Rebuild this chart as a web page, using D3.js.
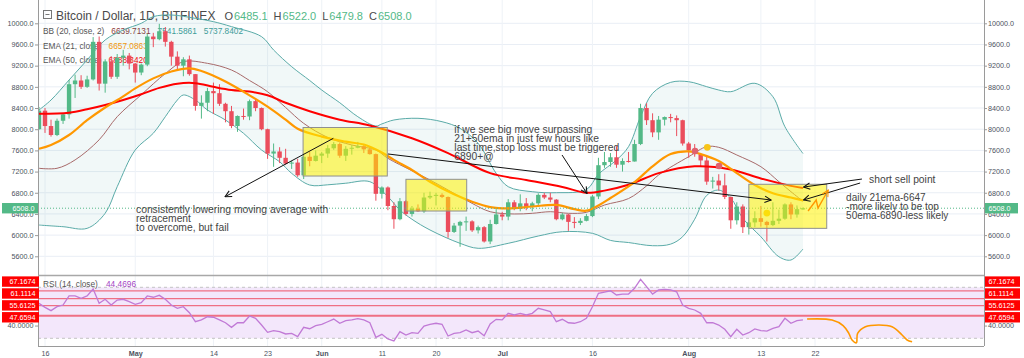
<!DOCTYPE html>
<html><head><meta charset="utf-8">
<script src="https://cdn.jsdelivr.net/npm/d3@7/dist/d3.min.js"></script>
<style>
html,body{margin:0;padding:0;background:#fff;overflow:hidden}
svg{display:block;font-family:"Liberation Sans",Arial,sans-serif}
</style></head><body>
<svg id="chart" width="1024" height="358"></svg>
<script>
// ---------------- DATA ----------------
const dates = [
"2018-04-15","2018-04-16","2018-04-17","2018-04-18","2018-04-19","2018-04-20","2018-04-21","2018-04-22","2018-04-23","2018-04-24","2018-04-25","2018-04-26","2018-04-27","2018-04-28","2018-04-29","2018-04-30",
"2018-05-01","2018-05-02","2018-05-03","2018-05-04","2018-05-05","2018-05-06","2018-05-07","2018-05-08","2018-05-09","2018-05-10","2018-05-11","2018-05-12","2018-05-13","2018-05-14","2018-05-15","2018-05-16","2018-05-17","2018-05-18","2018-05-19","2018-05-20","2018-05-21","2018-05-22","2018-05-23","2018-05-24","2018-05-25","2018-05-26","2018-05-27","2018-05-28","2018-05-29","2018-05-30","2018-05-31",
"2018-06-01","2018-06-02","2018-06-03","2018-06-04","2018-06-05","2018-06-06","2018-06-07","2018-06-08","2018-06-09","2018-06-10","2018-06-11","2018-06-12","2018-06-13","2018-06-14","2018-06-15","2018-06-16","2018-06-17","2018-06-18","2018-06-19","2018-06-20","2018-06-21","2018-06-22","2018-06-23","2018-06-24","2018-06-25","2018-06-26","2018-06-27","2018-06-28","2018-06-29","2018-06-30",
"2018-07-01","2018-07-02","2018-07-03","2018-07-04","2018-07-05","2018-07-06","2018-07-07","2018-07-08","2018-07-09","2018-07-10","2018-07-11","2018-07-12","2018-07-13","2018-07-14","2018-07-15","2018-07-16","2018-07-17","2018-07-18","2018-07-19","2018-07-20","2018-07-21","2018-07-22","2018-07-23","2018-07-24","2018-07-25","2018-07-26","2018-07-27","2018-07-28","2018-07-29","2018-07-30","2018-07-31",
"2018-08-01","2018-08-02","2018-08-03","2018-08-04","2018-08-05","2018-08-06","2018-08-07","2018-08-08","2018-08-09","2018-08-10","2018-08-11","2018-08-12","2018-08-13","2018-08-14","2018-08-15","2018-08-16","2018-08-17","2018-08-18","2018-08-19","2018-08-20"];

const open = [8000,8350,8060,7890,8160,8280,8850,8920,8800,8940,9650,8860,9280,8990,9350,9390,
9240,9070,9220,9750,9700,9850,9650,9370,9200,9320,9040,8440,8500,8720,8680,8480,8340,8060,8250,8240,8530,8400,8000,7540,7580,7460,7350,7370,7130,7480,7400,
7500,7540,7640,7720,7500,7630,7650,7680,7620,7530,6780,6900,6550,6300,6640,6400,6500,6450,6710,6740,6760,6720,6060,6180,6250,6260,6090,6150,5880,6210,
6390,6350,6620,6500,6600,6530,6600,6760,6710,6670,6300,6390,6250,6230,6270,6360,6730,7320,7380,7470,7330,7400,7390,7720,8400,8170,7940,8180,8230,8210,8170,
7730,7600,7530,7410,7010,7030,6940,6720,6280,6540,6150,6240,6320,6250,6190,6270,6310,6580,6390,6485.1];
const high = [8420,8400,8180,8200,8300,8930,9030,9020,9010,9740,9750,9320,9380,9420,9500,9440,
9250,9240,9800,9820,9990,9930,9670,9470,9360,9390,9040,8640,8780,8880,8850,8500,8440,8260,8390,8560,8580,8410,8010,7730,7660,7630,7400,7440,7540,7570,7600,
7570,7700,7760,7750,7680,7700,7760,7700,7680,7540,6920,6920,6620,6700,6660,6550,6580,6800,6820,6800,6790,6730,6230,6270,6350,6280,6180,6170,6290,6490,
6440,6680,6660,6770,6700,6630,6790,6800,6800,6680,6420,6400,6340,6320,6400,6760,7460,7570,7550,7680,7450,7570,7800,8480,8490,8300,8250,8240,8290,8260,8180,
7760,7720,7540,7500,7100,7150,7160,6730,6620,6580,6470,6450,6550,6270,6620,6480,6600,6620,6560,6522.0];
const low = [7990,7930,7860,7870,8100,8200,8590,8760,8780,8920,8730,8690,8950,8950,9200,9130,
8880,9020,9190,9550,9680,9560,9200,9100,9000,9010,8350,8200,8340,8290,8440,8130,8020,7950,8180,8170,8340,7980,7440,7290,7360,7330,7250,7100,7060,7300,7390,
7360,7460,7610,7460,7400,7520,7640,7550,7520,6650,6690,6470,6120,6280,6370,6350,6440,6420,6680,6560,6700,5950,6040,5780,6080,6060,6030,5860,5830,6200,
6280,6280,6470,6450,6470,6450,6530,6680,6620,6280,6280,6080,6130,6190,6260,6340,6680,7270,7290,7270,7200,7370,7390,7700,8080,7850,7800,8070,8130,7870,7690,
7460,7480,7300,6950,6880,6840,6680,6120,6200,6040,6010,6150,6160,5880,6170,6210,6290,6300,6330,6479.8];
const close = [8350,8060,7890,8160,8280,8850,8920,8800,8940,9650,8860,9280,8990,9350,9390,9240,
9070,9220,9750,9700,9850,9650,9370,9200,9320,9040,8440,8500,8720,8680,8480,8340,8060,8250,8240,8530,8400,8000,7540,7580,7460,7350,7370,7130,7480,7400,7500,
7540,7640,7720,7500,7630,7650,7680,7620,7530,6780,6900,6550,6300,6640,6400,6500,6450,6710,6740,6760,6720,6060,6180,6250,6260,6090,6150,5880,6210,6390,
6350,6620,6500,6600,6530,6600,6760,6710,6670,6300,6390,6250,6230,6270,6360,6730,7320,7380,7470,7330,7400,7390,7720,8400,8170,7940,8180,8230,8210,8170,7730,
7600,7530,7410,7010,7030,6940,6720,6280,6540,6150,6240,6320,6250,6190,6270,6310,6580,6390,6490,6508.0];

const rsi = [57.4,54.3,51.7,54.8,56.1,63.2,63.2,61.4,63.2,68.7,57.4,60.6,56.1,60.0,60.6,58.7,
56.7,57.9,63.2,62.2,63.7,60.6,56.1,53.5,54.8,50.1,43.0,44.4,46.9,46.5,44.4,42.2,38.6,42.2,42.2,47.5,45.7,40.4,34.7,36.0,35.2,33.4,33.9,31.3,38.6,37.5,39.9,
41.0,43.0,45.1,41.8,43.8,44.4,45.4,44.4,42.2,30.8,33.1,29.5,27.9,35.2,32.6,34.4,33.9,39.6,41.0,41.8,41.0,31.8,33.9,34.4,36.5,34.4,35.7,32.0,41.2,44.9,
44.4,49.6,48.3,49.6,48.3,49.6,53.5,52.2,50.9,43.0,44.9,42.2,41.8,43.0,45.7,54.8,65.3,66.3,67.3,64.0,64.7,64.7,69.2,76.3,70.5,64.7,67.9,68.4,67.9,66.5,56.1,
53.5,52.2,49.6,42.2,42.2,40.4,37.1,31.3,37.1,32.6,34.4,37.3,36.0,35.7,37.8,39.1,45.7,41.8,43.8,44.47];

// indicator lines: [date, value]
const ema21 = [["2018-04-15",7630],["2018-04-17",7700],["2018-04-20",7890],["2018-04-23",8170],["2018-04-26",8410],["2018-04-29",8620],["2018-05-01",8770],["2018-05-04",8960],["2018-05-07",9090],["2018-05-10",9150],["2018-05-12",9100],["2018-05-14",9010],["2018-05-16",8900],["2018-05-20",8640],["2018-05-23",8425],["2018-05-26",8180],["2018-05-28",8010],["2018-06-01",7860],["2018-06-05",7764],["2018-06-08",7710],["2018-06-11",7560],["2018-06-13",7420],["2018-06-16",7230],["2018-06-19",7009],["2018-06-23",6770],["2018-06-26",6631],["2018-06-29",6530],["2018-07-02",6506],["2018-07-06",6540],["2018-07-10",6570],["2018-07-13",6490],["2018-07-15",6461],["2018-07-17",6560],["2018-07-19",6700],["2018-07-23",7000],["2018-07-26",7300],["2018-07-29",7530],["2018-08-01",7580],["2018-08-03",7530],["2018-08-06",7400],["2018-08-09",7170],["2018-08-12",6946],["2018-08-15",6790],["2018-08-18",6710],["2018-08-20",6657]];
const ema50 = [["2018-04-15",8290],["2018-04-20",8312],["2018-04-23",8376],["2018-04-26",8457],["2018-04-29",8551],["2018-05-02",8660],["2018-05-05",8780],["2018-05-08",8860],["2018-05-11",8870],["2018-05-14",8800],["2018-05-17",8740],["2018-05-20",8710],["2018-05-23",8640],["2018-05-26",8500],["2018-05-30",8340],["2018-06-04",8180],["2018-06-09",8070],["2018-06-16",7830],["2018-06-22",7550],["2018-06-29",7170],["2018-07-05",7040],["2018-07-11",6910],["2018-07-15",6800],["2018-07-18",6840],["2018-07-22",6950],["2018-07-27",7170],["2018-08-02",7300],["2018-08-08",7240],["2018-08-13",7070],["2018-08-18",6930],["2018-08-20",6888]];
const bbBasis = [["2018-04-15",7262],["2018-04-18",7262],["2018-04-21",7420],["2018-04-25",7800],["2018-04-28",8236],["2018-05-02",8650],["2018-05-06",9050],["2018-05-09",9275],["2018-05-13",9244],["2018-05-17",9118],["2018-05-20",8920],["2018-05-23",8708],["2018-05-26",8410],["2018-05-29",8111],["2018-06-02",7845],["2018-06-06",7702],["2018-06-10",7607],["2018-06-12",7450],["2018-06-16",7215],["2018-06-19",7041],["2018-06-22",6852],["2018-06-26",6600],["2018-06-29",6442],["2018-07-03",6399],["2018-07-06",6412],["2018-07-09",6442],["2018-07-12",6412],["2018-07-15",6430],["2018-07-18",6568],["2018-07-22",6690],["2018-07-25",6930],["2018-07-27",7135],["2018-08-01",7481],["2018-08-04",7670],["2018-08-06",7658],["2018-08-09",7513],["2018-08-13",7292],["2018-08-16",7009],["2018-08-18",6820],["2018-08-20",6640]];
const bbUpper = [["2018-04-15",8363],["2018-04-17",8551],["2018-04-20",8929],["2018-04-23",9307],["2018-04-26",9685],["2018-04-29",9874],["2018-05-02",10000],["2018-05-04",10126],["2018-05-07",10157],["2018-05-11",10094],["2018-05-14",10031],["2018-05-17",9937],["2018-05-22",9748],["2018-05-24",9496],["2018-05-27",9181],["2018-05-30",8920],["2018-06-01",8740],["2018-06-04",8500],["2018-06-07",8236],["2018-06-10",8060],["2018-06-11",8100],["2018-06-13",8174],["2018-06-17",8206],["2018-06-21",8142],["2018-06-24",8016],["2018-06-27",7734],["2018-06-30",7167],["2018-07-02",6914],["2018-07-06",6820],["2018-07-10",6801],["2018-07-15",6860],["2018-07-17",7150],["2018-07-20",7418],["2018-07-22",7670],["2018-07-24",8236],["2018-07-26",8678],["2018-07-29",8885],["2018-08-01",8897],["2018-08-04",8803],["2018-08-06",8740],["2018-08-08",8708],["2018-08-12",8867],["2018-08-15",8614],["2018-08-17",8047],["2018-08-20",7541]];
const bbLower = [["2018-04-15",6190],["2018-04-19",6159],["2018-04-23",6128],["2018-04-26",6412],["2018-04-28",6914],["2018-05-01",7607],["2018-05-04",7923],["2018-05-06",8236],["2018-05-08",8551],["2018-05-09",8646],["2018-05-11",8551],["2018-05-13",8363],["2018-05-16",8174],["2018-05-19",7923],["2018-05-22",7607],["2018-05-25",7386],["2018-05-27",7167],["2018-05-30",6946],["2018-06-02",6950],["2018-06-05",6980],["2018-06-09",7009],["2018-06-12",6725],["2018-06-14",6474],["2018-06-16",6300],["2018-06-19",6097],["2018-06-24",5845],["2018-06-27",5751],["2018-07-02",5845],["2018-07-07",5983],["2018-07-11",6064],["2018-07-16",6034],["2018-07-19",5900],["2018-07-22",5860],["2018-07-26",5800],["2018-07-29",5830],["2018-07-31",5970],["2018-08-02",6300],["2018-08-04",6750],["2018-08-06",6850],["2018-08-08",6700],["2018-08-10",6317],["2018-08-13",5970],["2018-08-16",5592],["2018-08-18",5530],["2018-08-20",5738]];

const priceTicks = [5600,6000,6400,6800,7200,7600,8000,8400,8800,9200,9600,10000];
const timeTicks = ["2018-04-16","2018-05-01","2018-05-14","2018-05-23","2018-06-01","2018-06-11","2018-06-20","2018-07-01","2018-07-16","2018-08-01","2018-08-13","2018-08-22"];
const timeLabels = ["16","May","14","23","Jun","11","20","Jul","16","Aug","13","22"];
const rsiLevels = [67.1674,61.1114,55.6125,47.6594];
const lastPrice = 6508.0;
const legendOHLC = [["O","6485.1"],["H","6522.0"],["L","6479.8"],["C","6508.0"]];
const legendBB = ["6639.7131","7541.5861","5737.8402"];
const legendEma21 = "6657.0863", legendEma50 = "6888.3420", legendRsi = "44.4696";

// annotations in (days after Apr 16, price) space
const boxes = [[42.9,56.9,8032,7116],[60.0,70.1,7054,6455],[117.0,129.95,6960,6128]];
const arrows = [[47.93,7828,29.93,6725],[57.02,7532,120.7,6663],[85.95,7513,90.1,6786],[135.8,7059,126.1,6908],[135.5,6984,126.1,6663]];
const orangeMark = [[126.85,6455],[128.2,6663],[128.5,6512],[130.2,6852]];
const goldDots = [[110.1,7658],[120.0,6417]];
const redDots = [[108.06,7588],[112.05,7305]];
const rsiSketch = [[126.68,45.1],[130.84,44.35],[132.67,40.0],[133.62,33.9],[134.16,28.7],[134.88,26.5],[135.08,33.9],[136.38,39.1],[138.6,40.4],[140.81,39.1],[142.48,32.6],[143.31,28.7],[144.14,27.3]];
const notes = [
  [15.13,6427,10.3,["consistently lowering moving average with","retracement","to overcome, but fail"]],
  [68.05,7934,10.3,["if we see big move surpassing","21+50ema in just few hours like","last time,stop loss must be triggered","6890+@"]],
  [136.99,6975,10.3,["short sell point"]],
  [133.17,6644,10.0,["daily 21ema-6647","-more likely to be top","50ema-6890-less likely"]]
];

// ---------------- LAYOUT ----------------
const L = 38, R = 984, mainBot = 275, rsiTop = 275, rsiBot = 346;
const UP = "#53b987", DOWN = "#eb4d5c";
const parse = d3.utcParse("%Y-%m-%d");
const t0 = parse("2018-04-16");
const x = d3.scaleUtc().domain([t0, parse("2018-08-22")]).range([45, 815]);
const y = d3.scaleLinear().domain([5600, 10000]).range([256.3, 23.3]);
const yR = d3.scaleLinear().domain([30, 70]).range([338.3, 287.3]);
const xd = d => x(new Date(t0.getTime() + d * 864e5));

const svg = d3.select("#chart");
const defs = svg.append("defs");
defs.append("clipPath").attr("id","cm").append("rect").attr("x",L).attr("y",0).attr("width",R-L).attr("height",mainBot);
defs.append("clipPath").attr("id","cr").append("rect").attr("x",L).attr("y",rsiTop).attr("width",R-L).attr("height",rsiBot-rsiTop);
function marker(id, color){
  defs.append("marker").attr("id",id).attr("viewBox","0 0 10 10").attr("refX",9).attr("refY",5)
    .attr("markerWidth",8).attr("markerHeight",8).attr("markerUnits","userSpaceOnUse").attr("orient","auto")
    .append("path").attr("d","M1,1 L9,5 L1,9").attr("fill","none").attr("stroke",color).attr("stroke-width",1.3);
}
marker("ab","#111"); marker("ao","#ff9800");

// grid
const grid = svg.append("g");
grid.selectAll(".hg").data(priceTicks).join("line").attr("x1",L).attr("x2",R)
  .attr("y1",d=>y(d)).attr("y2",d=>y(d)).attr("stroke","#e9eef5").attr("stroke-width",1);
grid.selectAll(".vg").data(timeTicks).join("line").attr("x1",d=>x(parse(d))).attr("x2",d=>x(parse(d)))
  .attr("y1",0).attr("y2",rsiBot).attr("stroke","#eef2f7").attr("stroke-width",1);

// legend (drawn below candles like the reference)
const leg = svg.append("g").attr("font-size","8.3px");
function row(label, values, yy, colors){
  const t = leg.append("text").attr("x",43).attr("y",yy).attr("fill","#555").text(label);
  let xx = 43 + t.node().getComputedTextLength() + 7;
  values.forEach((v,i)=>{
    const tv = leg.append("text").attr("x",xx).attr("y",yy).attr("fill",colors[i]).text(v);
    xx += tv.node().getComputedTextLength() + 7;
  });
}
row("BB (20, close, 2)", legendBB, 34.3, ["#8b3a3a","#3f9d9a","#3f9d9a"]);
row("EMA (21, close)", [legendEma21], 48.7, ["#ff9800"]);
row("EMA (50, close)", [legendEma50], 63.2, ["#ff0000"]);

// title row
svg.append("rect").attr("x",43.5).attr("y",10.5).attr("width",8).attr("height",8).attr("fill","none").attr("stroke","#777");
svg.append("line").attr("x1",45.5).attr("x2",49.5).attr("y1",14.5).attr("y2",14.5).attr("stroke","#777");
const title = svg.append("text").attr("x",56).attr("y",19.5).attr("font-size","12px").attr("fill","#4a4a4a").text("Bitcoin / Dollar, 1D, BITFINEX");
let ox = 56 + title.node().getComputedTextLength() + 9;
legendOHLC.forEach(([k,v])=>{
  const a = svg.append("text").attr("x",ox).attr("y",19.5).attr("font-size","11px").attr("fill","#4a4a4a").text(k);
  ox += a.node().getComputedTextLength() + 1;
  const b = svg.append("text").attr("x",ox).attr("y",19.5).attr("font-size","11px").attr("fill",UP).text(v);
  ox += b.node().getComputedTextLength() + 6;
});

// main pane
const gm = svg.append("g").attr("clip-path","url(#cm)");
const pts = a => a.map(([d,v]) => [x(parse(d)), y(v)]);
const curve = d3.line().curve(d3.curveCatmullRom.alpha(0.5));
const upP = curve(pts(bbUpper));
const loP = curve(pts(bbLower.slice().reverse()));
gm.append("path").attr("d", upP + "L" + loP.slice(1) + "Z").attr("fill","rgba(63,157,154,0.07)");
gm.append("path").attr("d", upP).attr("fill","none").attr("stroke","#5aaba8").attr("stroke-width",1);
gm.append("path").attr("d", curve(pts(bbLower))).attr("fill","none").attr("stroke","#5aaba8").attr("stroke-width",1);
gm.append("path").attr("d", curve(pts(bbBasis))).attr("fill","none").attr("stroke","#a86a6a").attr("stroke-width",1);

// candles
const cd = dates.map((d,i)=>({t:parse(d),o:open[i],h:high[i],l:low[i],c:close[i]}));
const bw = 4.4;
const cg = gm.append("g");
cg.selectAll(".w").data(cd).join("line").attr("x1",d=>x(d.t)).attr("x2",d=>x(d.t))
  .attr("y1",d=>y(d.h)).attr("y2",d=>y(d.l)).attr("stroke",d=>d.c>=d.o?UP:DOWN).attr("stroke-width",1);
cg.selectAll(".b").data(cd).join("rect").attr("x",d=>x(d.t)-bw/2).attr("width",bw)
  .attr("y",d=>y(Math.max(d.o,d.c))).attr("height",d=>Math.max(1,Math.abs(y(d.o)-y(d.c))))
  .attr("fill",d=>d.c>=d.o?UP:DOWN);

// EMAs
gm.append("path").attr("d",curve(pts(ema50))).attr("fill","none").attr("stroke","#ff0000").attr("stroke-width",2);
gm.append("path").attr("d",curve(pts(ema21))).attr("fill","none").attr("stroke","#ff9800").attr("stroke-width",2.2);

// last price line
gm.append("line").attr("x1",L).attr("x2",R).attr("y1",y(lastPrice)).attr("y2",y(lastPrice))
  .attr("stroke",UP).attr("stroke-dasharray","1,2").attr("stroke-width",1);

// markers
gm.selectAll(".rd").data(redDots).join("circle").attr("cx",d=>xd(d[0])).attr("cy",d=>y(d[1])).attr("r",3.3).attr("fill","#e0626e");
gm.selectAll(".gd").data(goldDots).join("circle").attr("cx",d=>xd(d[0])).attr("cy",d=>y(d[1])).attr("r",3.4).attr("fill","#f7c51a");

// yellow boxes
gm.selectAll(".bx").data(boxes).join("rect")
  .attr("x",d=>xd(d[0])).attr("width",d=>xd(d[1])-xd(d[0]))
  .attr("y",d=>y(d[2])).attr("height",d=>y(d[3])-y(d[2]))
  .attr("fill","rgba(255,242,0,0.55)").attr("stroke","#8f8f8f").attr("stroke-width",1);

// arrows
gm.selectAll(".ar").data(arrows).join("line")
  .attr("x1",d=>xd(d[0])).attr("y1",d=>y(d[1])).attr("x2",d=>xd(d[2])).attr("y2",d=>y(d[3]))
  .attr("stroke","#111").attr("stroke-width",1).attr("marker-end","url(#ab)");
gm.append("path").attr("d", d3.line()(orangeMark.map(([d,v])=>[xd(d),y(v)])))
  .attr("fill","none").attr("stroke","#ff9800").attr("stroke-width",1.4).attr("marker-end","url(#ao)");

// notes
const ng = svg.append("g").attr("fill","#444");
notes.forEach(([d,p,fs,lines])=>{
  const t = ng.append("text").attr("x",xd(d)).attr("y",y(p)).attr("font-size",fs+"px");
  lines.forEach((s,i)=>t.append("tspan").attr("x",xd(d)).attr("dy",i?9.1:0).text(s));
});

// RSI pane
const gr = svg.append("g").attr("clip-path","url(#cr)");
gr.append("rect").attr("x",L).attr("width",R-L).attr("y",yR(70)).attr("height",yR(30)-yR(70)).attr("fill","#f3e7fb");
[70,30].forEach(v=>gr.append("line").attr("x1",L).attr("x2",R).attr("y1",yR(v)).attr("y2",yR(v))
  .attr("stroke","#c4c4c4").attr("stroke-dasharray","3,3"));
gr.selectAll(".lv").data(rsiLevels).join("line").attr("x1",L).attr("x2",R)
  .attr("y1",d=>yR(d)).attr("y2",d=>yR(d)).attr("stroke","#ef6f84").attr("stroke-width",(d,i)=>i===3?2:1.2);
gr.append("path").datum(cd.map((d,i)=>[x(d.t), yR(rsi[i])])).attr("d",d3.line())
  .attr("fill","none").attr("stroke","#c17ad6").attr("stroke-width",1.3);
gr.append("path").attr("d",d3.line().curve(d3.curveCatmullRom.alpha(0.5))(rsiSketch.map(([d,v])=>[xd(d),yR(v)])))
  .attr("fill","none").attr("stroke","#ff9800").attr("stroke-width",1.6);
svg.append("text").attr("x",43).attr("y",286.5).attr("font-size","8.3px").attr("fill","#555").text("RSI (14, close)");
svg.append("text").attr("x",106).attr("y",286.5).attr("font-size","8.3px").attr("fill","#a445c4").text(legendRsi);

// frame
const fr = svg.append("g").attr("stroke","#9a9a9a").attr("stroke-width",1);
fr.append("line").attr("x1",L+0.5).attr("x2",L+0.5).attr("y1",0).attr("y2",rsiBot);
fr.append("line").attr("x1",R+0.5).attr("x2",R+0.5).attr("y1",0).attr("y2",rsiBot);
fr.append("line").attr("x1",L).attr("x2",R).attr("y1",rsiTop+0.5).attr("y2",rsiTop+0.5).attr("stroke","#a8a8a8").attr("stroke-width",1.5);
fr.append("line").attr("x1",L).attr("x2",R).attr("y1",rsiBot+0.5).attr("y2",rsiBot+0.5);

// axes
function styleAxis(g){
  g.select(".domain").remove();
  g.selectAll("line").attr("stroke","#9a9a9a");
  g.selectAll("text").attr("fill","#4c525e").attr("font-size","7.2px").attr("font-family","Liberation Sans, Arial, sans-serif");
}
svg.append("g").attr("transform",`translate(${R},0)`).call(d3.axisRight(y).tickValues(priceTicks).tickSize(3).tickPadding(1).tickFormat(d3.format(".1f"))).call(styleAxis);
svg.append("g").attr("transform",`translate(${L},0)`).call(d3.axisLeft(y).tickValues(priceTicks).tickSize(3).tickPadding(1.5).tickFormat(d3.format(".1f"))).call(styleAxis);
svg.append("g").attr("transform",`translate(${R},0)`).call(d3.axisRight(yR).tickValues([40]).tickSize(3).tickPadding(1).tickFormat(d3.format(".4f"))).call(styleAxis);
svg.append("g").attr("transform",`translate(${L},0)`).call(d3.axisLeft(yR).tickValues([40]).tickSize(3).tickPadding(1.5).tickFormat(d3.format(".4f"))).call(styleAxis);
const xa = svg.append("g").attr("transform",`translate(0,${rsiBot})`)
  .call(d3.axisBottom(x).tickValues(timeTicks.map(parse)).tickSize(0).tickPadding(4.5).tickFormat((d,i)=>timeLabels[i])).call(styleAxis);
xa.selectAll("text").attr("font-weight",(d,i)=>/[A-Za-z]/.test(timeLabels[i])?"bold":"normal");

// price label (last close)
function tag(xx, w, cy, txt, fill, anchorRight){
  svg.append("rect").attr("x",xx).attr("y",cy-5.2).attr("width",w).attr("height",10.4).attr("fill",fill);
  svg.append("text").attr("x",anchorRight?xx+w-3.5:xx+3.5).attr("y",cy+2.5).attr("text-anchor",anchorRight?"end":"start")
    .attr("font-size","7.2px").attr("fill","#fff").text(txt);
}
tag(985, 33, y(lastPrice), lastPrice.toFixed(1), UP, false);
tag(2, 36, y(lastPrice), lastPrice.toFixed(1), UP, true);

// RSI level tags, pushed apart bottom-up
let prev = null;
const tagY = [];
for (let i = rsiLevels.length-1; i >= 0; i--){
  let cy = yR(rsiLevels[i]) + 1.5;
  if (prev !== null && cy > prev - 11.9) cy = prev - 11.9;
  tagY[i] = cy; prev = cy;
}
rsiLevels.forEach((v,i)=>{
  tag(985, 35, tagY[i], v.toFixed(4), "#ff0000", false);
  tag(2, 37, tagY[i], v.toFixed(4), "#ff0000", true);
});
</script></body></html>
